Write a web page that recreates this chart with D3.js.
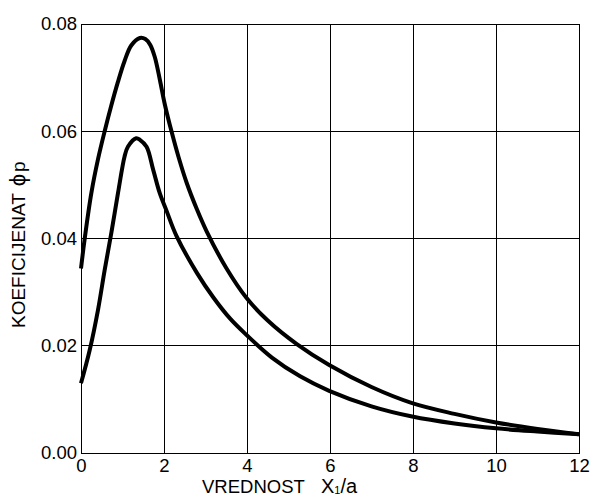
<!DOCTYPE html>
<html><head><meta charset="utf-8">
<script src="https://cdn.jsdelivr.net/npm/d3@7"></script>
<style>body{margin:0;background:#fff}svg{display:block}text{font-family:"Liberation Sans",Arial,sans-serif;fill:#000}</style>
</head><body><svg id="c" width="590" height="498"></svg>
<script>
const xTicks = [0, 2, 4, 6, 8, 10, 12];
const yTicks = [0, 0.02, 0.04, 0.06, 0.08];
const upperX = [0, 0.09, 0.25, 0.41, 0.57, 0.73, 0.89, 1.05, 1.21, 1.42, 1.55, 1.67, 1.78, 1.90, 2.02, 2.19, 2.35, 2.55, 2.79, 3.03, 3.5, 3.99, 4.5, 5.2, 5.98, 7, 7.98, 9, 10, 11, 12];
const upperY = [0.0344, 0.0400, 0.0485, 0.0548, 0.0600, 0.0648, 0.0692, 0.0731, 0.0760, 0.0774, 0.0772, 0.0761, 0.0738, 0.0696, 0.0650, 0.0597, 0.0552, 0.0503, 0.0455, 0.0413, 0.0345, 0.0289, 0.0247, 0.0203, 0.0164, 0.0123, 0.0093, 0.0073, 0.0057, 0.0045, 0.0035];
const lowerX = [0, 0.21, 0.41, 0.57, 0.73, 0.89, 1.05, 1.13, 1.33, 1.42, 1.58, 1.74, 1.90, 2.06, 2.30, 2.8, 3.19, 3.6, 3.99, 4.6, 5.28, 5.98, 7, 7.98, 9, 10, 11, 12];
const lowerY = [0.013, 0.0192, 0.0267, 0.0341, 0.041, 0.0484, 0.0553, 0.0571, 0.0587, 0.0584, 0.0571, 0.0528, 0.0484, 0.0452, 0.0405, 0.0335, 0.029, 0.025, 0.022, 0.0178, 0.0143, 0.0116, 0.0087, 0.0068, 0.0055, 0.0046, 0.004, 0.0035];

const svg = d3.select("#c");
const L = 81, R = 579, T = 24, B = 453;
const x = d3.scaleLinear().domain([0, 12]).range([L, R]);
const y = d3.scaleLinear().domain([0, 0.08]).range([B, T]);

// grid
svg.append("g").selectAll("line").data(xTicks).join("line")
  .attr("x1", d => x(d)).attr("x2", d => x(d)).attr("y1", T).attr("y2", B)
  .attr("stroke", "#000").attr("stroke-width", 1).attr("shape-rendering", "crispEdges");
svg.append("g").selectAll("line").data(yTicks).join("line")
  .attr("y1", d => y(d)).attr("y2", d => y(d)).attr("x1", L).attr("x2", R)
  .attr("stroke", "#000").attr("stroke-width", 1).attr("shape-rendering", "crispEdges");
svg.append("rect").attr("x", L).attr("y", T).attr("width", R - L).attr("height", B - T)
  .attr("fill", "none").attr("stroke", "#000").attr("stroke-width", 1).attr("shape-rendering", "crispEdges");

// axes labels (no tick lines)
const xAxis = svg.append("g").attr("transform", `translate(0,${B})`)
  .call(d3.axisBottom(x).tickValues(xTicks).tickFormat(d3.format("d")).tickSize(0).tickPadding(6));
const yAxis = svg.append("g").attr("transform", `translate(${L},0)`)
  .call(d3.axisLeft(y).tickValues(yTicks).tickFormat(d3.format(".2f")).tickSize(0).tickPadding(4));
[xAxis, yAxis].forEach(a => {
  a.select(".domain").remove();
  a.selectAll("text").attr("font-size", 18.5).attr("font-family", "Liberation Sans, Arial, sans-serif").attr("fill", "#000");
});

// curves
const line = d3.line().x(d => x(d[0])).y(d => y(d[1])).curve(d3.curveCatmullRom.alpha(0.5));
[[upperX, upperY], [lowerX, lowerY]].forEach(([xs, ys]) => {
  svg.append("path").datum(xs.map((v, i) => [v, ys[i]]))
    .attr("d", line).attr("fill", "none").attr("stroke", "#000")
    .attr("stroke-width", 4).attr("stroke-linejoin", "round").attr("stroke-linecap", "butt");
});

// axis titles
svg.append("text").attr("x", 202).attr("y", 493).attr("font-size", 18.5).text("VREDNOST");
const xt = svg.append("text").attr("x", 321).attr("y", 493).attr("font-size", 20);
xt.append("tspan").text("X");
xt.append("tspan").attr("font-size", 11).attr("dy", 1).text("1");
xt.append("tspan").attr("dy", -1).text("/a");

const yt = svg.append("text").attr("transform", "translate(25,328) rotate(-90)")
  .attr("text-anchor", "start").attr("font-size", 19);
yt.append("tspan").text("KOEFICIJENAT ");
yt.append("tspan").attr("font-size", 22).attr("dx", 2).text("\u03D5");
yt.append("tspan").attr("dx", 2).text("p");
</script></body></html>
